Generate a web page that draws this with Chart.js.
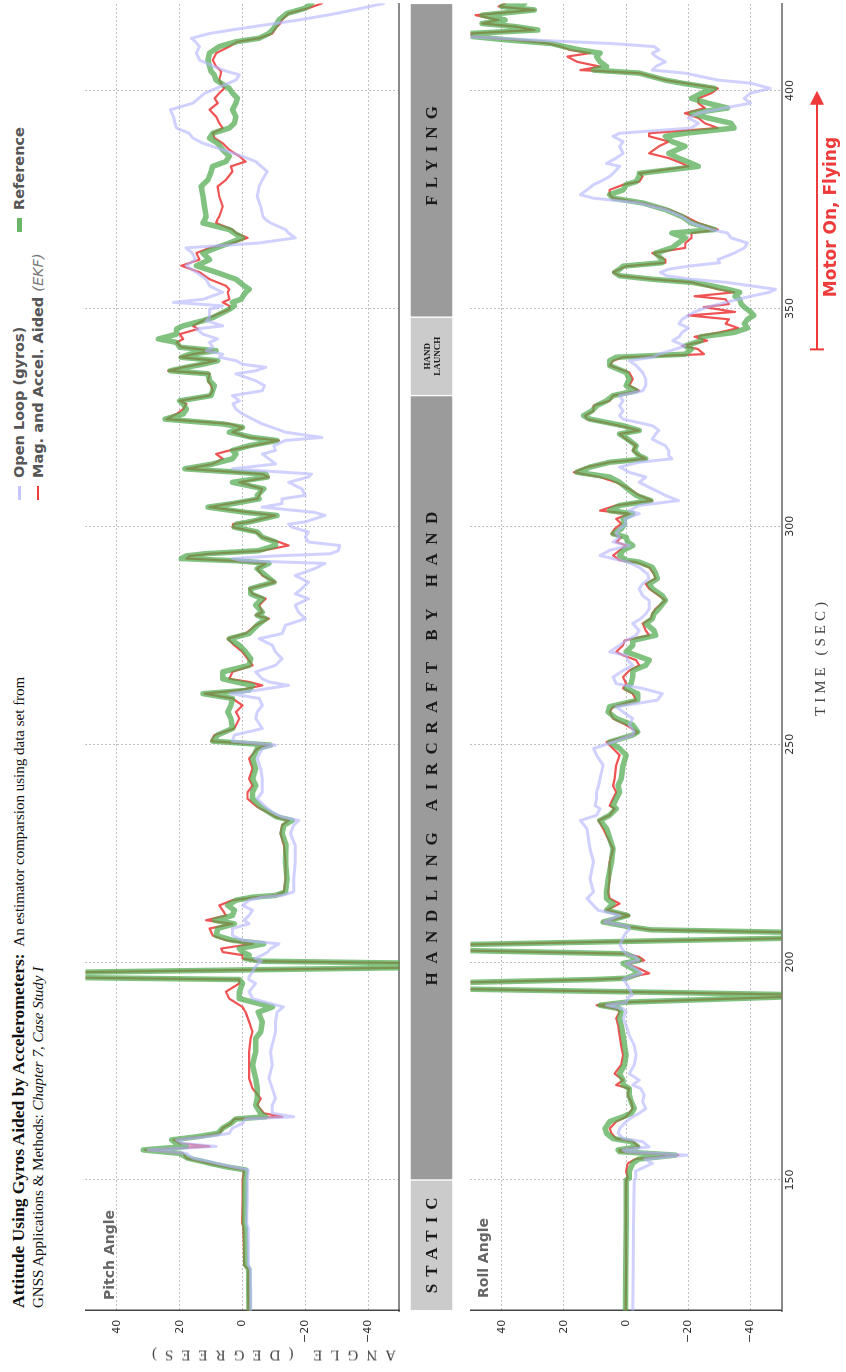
<!DOCTYPE html>
<html>
<head>
<meta charset="utf-8">
<script src="https://cdn.jsdelivr.net/npm/chart.js@4.4.1/dist/chart.umd.min.js"></script>
<style>
  html, body { margin: 0; padding: 0; background: #fff; width: 846px; height: 1372px; overflow: hidden; }
  /* the figure is laid out landscape and turned a quarter turn */
  #sheet { position: absolute; left: 0; top: 0; width: 1372px; height: 846px; background: #fff;
           transform-origin: 0 0; transform: translate(0px, 1372px) rotate(-90deg); }
  #sheet canvas { position: absolute; left: 0; }
  .txt { position: absolute; white-space: nowrap; }
  #title { left: 64px; top: 9px; font-family: "Liberation Serif", serif; font-size: 15px; line-height: 19px; color: #111; }
  #title b { font-size: 17.5px; }
  .leg { font-family: "DejaVu Sans", sans-serif; font-weight: bold; font-size: 14.5px; color: #555; }
  .leg i { font-weight: normal; color: #777; }
  .sw { display: inline-block; width: 14px; vertical-align: middle; margin-right: 8px; position: relative; top: -1px; }
  .panel { font-family: "DejaVu Sans", sans-serif; font-weight: bold; font-size: 14px; color: #666; }
  .axis { font-family: "Liberation Serif", serif; color: #444; }
</style>
</head>
<body>
<div id="sheet">
  <div id="title" class="txt"><b>Attitude Using Gyros Aided by Accelerometers:</b>&nbsp; An estimator comparsion using data set from<br>GNSS Applications &amp; Methods: <i>Chapter 7, Case Study I</i></div>

  <div class="txt leg" style="left:872px; top:11px;"><span class="sw" style="height:3px; background:rgba(185,185,255,0.8);"></span>Open Loop (gyros)</div>
  <div class="txt leg" style="left:1140px; top:11px;"><span class="sw" style="height:5px; background:rgba(80,170,80,0.85);"></span>Reference</div>
  <div class="txt leg" style="left:872px; top:30px;"><span class="sw" style="height:2px; background:rgba(235,40,40,0.9);"></span>Mag. and Accel. Aided <i>(EKF)</i></div>

  <canvas id="pitch" width="1372" height="345" style="top:70px;"></canvas>
  <canvas id="band" width="1372" height="53" style="top:405px;"></canvas>
  <canvas id="roll" width="1372" height="391" style="top:455px;"></canvas>

  <div class="txt panel" style="left:72px; top:101px;">Pitch Angle</div>
  <div class="txt panel" style="left:74px; top:475px;">Roll Angle</div>

  <div class="txt axis" style="left:17px; top:270px; font-size:15px; letter-spacing:8px; transform: translate(-50%, -50%) rotate(-90deg);">ANGLE (DEGREES)</div>
  <div class="txt axis" style="left:715px; top:820px; font-size:15px; letter-spacing:4px; transform: translate(-50%, -50%);">TIME (SEC)</div>
</div>

<script>
// ---- axes ----
const timeTicks  = [150, 200, 250, 300, 350, 400];
const angleTicks = [-40, -20, 0, 20, 40];
const timeMin = 120, timeMax = 420;
const angleMin = -50, angleMax = 50;

// ---- flight phases ----
const phaseNames = ['STATIC', 'HANDLING AIRCRAFT BY HAND', 'HAND\nLAUNCH', 'FLYING'];
const phaseStart = [120, 150, 330, 348];
const phaseEnd   = [150, 330, 348, 420];
const phaseLabelTime = [135, 249, 339, 385];

// ---- motor-on marker ----
const motorLabel = 'Motor On, Flying';
const motorStart = 340.6;
const motorEnd   = 399.5;

// ---- pitch angle (deg) ----
const pitchTime = [
  120,125,129.5,130.5,135,139,140,145,150,152.3,
  153,153.6,154.3,155,156.1,156.9,157.7,158.4,159.2,160,
  160.7,161.9,163,164,164.5,165.3,167.2,168.7,171,173.3,
  176.4,179.4,182.5,184,186.3,188.5,189.7,191.6,193.2,195.1,
  196,196.5,197.6,198.8,199.7,200.2,200.8,201.6,202.3,203.1,
  204.2,205,206.1,207.7,208.8,209.6,210.7,211.9,213,214.2,
  214.9,215.3,216.1,219.1,223,226.8,229.5,231.4,232.5,233.3,
  234.4,235.6,237.5,239,240.5,242.1,244.4,246.7,249,249.8,
  250.7,252.1,253.6,255.9,257.4,258.9,260.5,261.6,262.4,263.5,
  264.3,265,266.6,268.1,269.6,271.2,272.7,274.2,275.4,277.3,
  278.8,279.6,280.3,281.9,283.4,284.5,285.7,287.2,288.7,290.3,
  291.5,292.1,292.6,293.2,293.7,294.4,295.6,296.4,297.5,298.7,
  299.8,300.5,301,302.5,303.2,304.4,305.2,306.3,307.1,308.6,
  310.1,311.3,312,313.2,314.3,315.5,316.6,317.4,318.5,319.7,
  320.4,321.6,322.7,323.5,324.6,325.8,326.9,328.1,328.8,330,
  331.1,332.3,333.4,335,335.7,336.5,337.2,338,338.8,339.5,
  340.3,341.1,342.2,343,344.1,345.3,346,347.2,347.9,349.8,
  350.6,351.4,352.1,353.7,354.4,355.2,356.7,358.3,359.8,361.2,
  362.7,363.9,365,366.2,367.3,368.1,369.6,370.4,371.1,373.4,
  375.7,378,379.5,381.4,382.6,383.7,384.9,386.4,387.9,389.1,
  390.2,391.4,392.5,394,395.6,397.1,398.2,399.4,400.5,402.4,
  403.6,404.4,405.5,407,408.6,410.1,411.2,412,413.1,414.3,
  415.4,416.2,417.7,418.9,420
];
const pitchEkf = [
  -1.9,-1.8,-1.9,-0.5,-0.4,-0.3,0.1,0.0,0.0,-0.5,
  5.3,9.5,13.7,17.9,18.9,31,10.5,20,22,12.6,
  7.4,6.3,3.7,2.6,-12.6,-6.8,-4.7,-5.8,-3.2,-2.1,
  -2.1,-2.1,-2.6,-3.2,-2.1,-1,0,4.2,5.3,1,
  1,60,60,-60,-60,-6,0,0,6.3,6.8,
  -3.2,5.3,9.5,10.5,3.2,11.6,5.3,6.3,7.4,3.2,
  -4.2,-10.5,-13.2,-13.7,-13.7,-13.2,-12.1,-12.6,-14.7,-10.5,
  -7.9,-4.7,-1.6,-1.6,-3.2,-2.1,-3.2,-2.1,-4.7,-8.4,
  10,8.9,2.6,1,2.1,0,3.2,12.1,1,-6.3,
  -2.1,4.2,3.2,-3.2,-1.6,0,2.6,4.7,-1,-4.2,
  -8.4,-4.2,-6.3,-5.3,-7.4,-3.2,-2.1,-10.5,-6.3,-4.7,
  -7.4,3.7,17.9,16.8,10.5,-6.3,-14.7,-11.6,-6.3,-4.2,
  3.2,3,-2.1,-10.5,-2.1,10.5,4.2,-4.7,-5.3,-6.3,
  1,-8.4,-6.3,17.9,9.5,6.3,8.4,4.2,-3.2,-11.6,
  -2.1,3.2,0,4.2,24.2,21,18.9,17.9,20,10.5,
  9.5,10,11,10.5,23.7,18.9,13.7,8.4,20,15.8,
  9.5,19.5,21,18.9,20,14.2,15.8,12.6,10.5,4.2,
  4.2,6.3,4.2,4.7,4.2,5.3,10.5,13.7,19.5,13.7,
  14.7,10.5,3.2,-1.6,2.1,3.2,8.4,8,7.4,6.3,
  7.4,7.9,5.3,3.2,3.7,-1,1,4.2,6.3,8.9,
  9.5,6.3,7.4,8.4,10.5,7.9,8.9,7.4,5.8,7.4,
  7,6.8,8.4,9.5,8.4,4.2,1.6,-5.3,-9.5,-10.5,
  -12,-12.6,-14.7,-21,-25.3
];
const pitchReference = [
  -2.1,-2.0,-2.0,-1.0,-1.0,-0.9,-0.6,-0.7,-0.8,-1.0,
  5,9,13,17.4,20,31.6,17.9,21,22.6,13.7,
  7.9,6.3,3.7,2.1,-7.4,-5.8,-4.2,-4.7,-4.7,-4.2,
  -3.2,-4.2,-4.2,-5.8,-6.3,-5,-9.5,1,1,0,
  1,60,60,-60,-60,-6,-1,-2.1,0,1,
  -6.8,3.2,8.4,7.9,2.6,8.9,3.2,2.6,4.7,2.1,
  -3.2,-10.5,-13.7,-14.2,-13.7,-13.9,-12.6,-13.2,-15.8,-11,
  -8.4,-5.8,-3.2,-3.2,-4.2,-3.2,-4.2,-3.2,-4.7,-8.9,
  9.5,7.9,3.2,3.7,4.7,3.7,3.2,12.6,-2,-3.2,
  2.1,6.3,6.3,-2.1,-2.6,-1,1,4.2,-2.1,-4.7,
  -7.4,-4.7,-6.3,-4.2,-6.3,-2.6,-2.6,-10,-7.4,-4.7,
  -8.4,2,19.5,18,12,-5,-10.5,-10.5,-6.3,-4.7,
  2.6,2,-2.1,-11,-1,11,3.2,-5.3,-4.7,-6.8,
  3.2,-7.9,-7.4,18.4,9.5,3.2,2.1,3.2,-2.1,-11,
  -3.2,4.2,0,6.3,24.7,18.9,17.9,18.9,20,10,
  9.5,9,10.5,11,23,17.9,12.6,7.9,19.5,16.8,
  8.4,20,21,26.8,21,21,18.9,12.6,9.5,4.2,
  2.6,3.2,0.5,-1,-2.1,-0.5,2.1,8.4,14.7,10.5,
  12.6,8.4,4.2,0,2.6,4.2,12.6,12,11.6,12.1,
  12.6,13.2,11,10,9.5,5.3,4.2,6.3,7.9,10.5,
  9.5,4.2,2.6,2.1,3.2,2.1,1.6,3.2,4.2,8.4,
  9,10,10.5,11,10.5,7.4,2.1,-5.3,-8.4,-10,
  -11,-11.6,-14.2,-20,-22
];
const pitchGyro = [
  -2.6,-2.6,-2.5,-1.9,-1.8,-1.8,-1.3,-1.5,-1.5,-1.8,
  3,7,11,15.8,17.9,30,8.4,19,21,10.5,
  4.2,3.2,0,-1,-16.3,-9.5,-9.5,-10.5,-9.5,-8.4,
  -9.5,-8.9,-10,-10.5,-10.5,-11,-13,-3.2,-2.1,-4.2,
  -2,-2,-3,-4,-5,-6,-4,-6.3,-8,-9,
  -11.6,0,3.2,3.2,-2.1,-0.5,-2.1,-3.2,0,-2.1,
  -6.3,-12.6,-16.3,-16.3,-16.8,-16.8,-15.3,-16.3,-17.9,-12.6,
  -9.5,-7.4,-4.7,-6.3,-6.3,-6.3,-5.8,-4.7,-6.3,-10.5,
  3.2,2.6,-6.3,-4.2,-4.7,-6.3,-5.3,3.7,-4.7,-14.7,
  -8.4,-6.3,-4.2,-10.5,-12.6,-10.5,-9.5,-5.3,-12.6,-13.7,
  -20,-18.9,-17.9,-16.8,-21,-16.8,-18.9,-21,-16.8,-23,
  -26.3,0,3.2,-10,-28,-30.5,-31,-21,-20,-21,
  -15.8,-14.7,-20,-26.3,-23,-6.3,-12.6,-12.6,-20,-18.9,
  -14.7,-21,-22,3.2,-10.5,-8.4,-6.3,-10.5,-10,-13.7,
  -25.3,-13.7,-9.5,-6.3,-3.2,0,2.1,3,1,3.2,
  -6.3,-7,-4.2,2.1,-4.2,-7.4,0,2,7.4,6.3,
  11.6,9.5,10.5,8,12.6,14.7,6.3,11.6,10.5,10.5,
  6.3,22,12.6,6.3,8.4,10.5,11.6,14.7,18,15,
  16,18,-5,-16.8,-14.7,-13.7,-9,-7.4,-6.5,-5.8,
  -4.7,-5.3,-6.3,-7.9,-6,-4.2,0,6.3,12.6,15.8,
  17,21,21.5,22,23,15.8,14,12,8.4,2.1,
  1,5,9,13.7,14.7,13.7,15,16.3,10.5,0,
  -10.5,-18,-30,-38,-45
];

// ---- roll angle (deg) ----
const rollTime = [
  120,130,140,150,150.4,152,153.8,154.8,155.7,156.5,
  156.9,157.6,158.8,159.5,160.7,161.8,163.4,164.5,165.3,166.4,
  168,169.5,171,171.8,172.9,174.4,176.4,178.6,180.9,183.2,
  185.5,187.1,188.6,189.3,190.1,190.8,192.1,192.45,193.9,195.2,
  196,196.3,197,197.4,198.5,199.7,200.4,201.2,201.9,202.7,
  203.9,205.6,206.8,207.4,208.1,209.2,210.7,211.9,213.4,214.6,
  216.1,219.1,223,226,230.6,232.5,233.7,235.2,235.9,237.5,
  239,240.5,242.1,245.2,247.5,249,250.5,252.1,252.8,254.4,
  255.9,257.4,258.6,260.1,261.6,262.8,263.9,265.4,266.9,268.1,
  269.3,270.4,271.2,272.7,273.8,275,276.1,277.7,278.8,279.9,
  281.1,283,284.1,285.7,286.8,288,289.1,290.6,291.8,292.2,
  293.3,294.5,295.6,296.4,297.5,298.3,299.4,300.6,301.7,302.9,
  303.6,304.8,305.9,307.1,308.6,310.1,311.3,312.4,313.6,314.7,
  315.5,316.2,317.4,318.5,320,321.2,322,323.1,324.6,325.4,
  326.5,327.7,328.8,330,331.1,332.3,333.8,335.3,336.9,338,
  338.8,339.5,340.7,341.4,342.6,343.5,344.5,345.5,346.5,347.5,
  348.4,349.2,350.3,351,352.1,352.8,353.7,354.4,355.2,356,
  356.7,357.5,358.3,359,359.7,360.5,361.2,362.7,363.9,365,
  366.2,367.3,368.1,369.6,371.1,372.7,374.2,375.3,376.1,377.2,
  378.4,379.1,380.3,381,382.6,383.3,384.5,385.6,387.2,388.3,
  389.5,390.2,391.4,392.5,393.7,394.8,396,397.1,398.2,399.4,
  400.5,401.7,402.4,404,404.7,405.5,406.6,407.8,408.6,409.3,
  410.1,410.8,411.6,412.4,413.1,413.9,414.7,415.4,416.2,417.3,
  418.5,419.3,420
];
const rollEkf = [
  0.2,0,0.1,0,-0.5,0,-0.5,-3,-16.8,2.1,
  2.1,-4.2,-2.1,3.2,4.7,5.3,3.2,0,-1,-2.1,
  -1.6,-0.5,-1,3.2,1,3.7,1.6,1,1.6,2.1,
  2.6,3.2,2.1,3.2,9.5,0,-55,-60,60,60,
  10,0,-4.2,-7.4,-4.2,0,-5.8,-4.2,0,55,
  60,-60,-55,-8,-1,7.4,-1,6.3,2.1,5.3,
  5.8,5.3,5.3,4.2,7.4,8.9,5.3,3.7,5.3,4.2,
  3.2,4.2,3.7,3.2,2.1,4.2,6.3,-2.1,-3.7,0,
  4.2,5.3,4.2,-3.2,-2.1,1,0,1,-1,-4.2,
  -3.2,1,3.2,1,0.5,-7.4,-6.3,-5.3,-7.9,-8.4,
  -9.5,-12.6,-10.5,-7.4,-6.3,-9.5,-8.9,-7.4,-3.2,2.1,
  4.2,2.1,0,3.2,1.6,4.7,3.7,1.6,3.2,-1,
  8.4,3.2,-8.4,-4.2,-1,3.2,8.4,16.8,12.6,5.3,
  -6.3,-4.2,-2.1,-3.2,0,2.1,-4.2,2.1,12.6,13.2,
  10.5,10.5,5.3,4.2,-4.2,-1,-2.1,-1,5.3,4.2,
  1,-25,-23,-18,-26,-22,-30,-36,-32,-33,
  -20,-35,-25,-33,-32,-22,-34.7,-29.5,-25.3,-21,
  -8.4,2.1,4.2,2.1,0,-12.6,-12.6,-8.4,-19,-19,
  -21,-21,-29.5,-23.2,-19,-13.7,-5.3,4.2,5.3,5.3,
  1,-4.2,-5.3,-4.2,-20,-17.9,-13.7,-7.4,-10.5,-13.7,
  -7.4,-7.4,-29.5,-25.3,-23.2,-18.9,-25.3,-23.2,-23.2,-27.4,
  -29.5,-18.9,-12.6,-4.2,14.7,8.4,15.8,18.9,11.6,17.9,
  21,25,35.8,49.5,50,29.5,35.8,46.3,41,48.4,
  29.5,41,38.9
];
const rollReference = [
  0.2,0.1,0,0,-1,-1,-2.1,-4,-15.8,2.1,
  2.6,-3.7,-1.6,4.2,6.3,6.8,5.3,1,-1.6,-2.6,
  -1.6,-1,-1,1,1,2.1,0.5,0,0.5,1,
  1.6,2.1,1.6,2.1,8.4,0,-55,-60,60,60,
  10,0,-2.6,-4.2,-2.1,1,-4.2,-2.1,0,55,
  60,-60,-55,-8,-1,7.4,-0.5,6.3,4.2,6.3,
  6.3,5.8,4.7,4.2,6.3,8.4,5.3,3.2,4.2,3.2,
  2.1,2.6,1.6,1,0,2.1,5.3,-2.1,-3.7,-2.1,
  3.2,5.8,5.3,-3.7,-3.7,0,-1.6,-2.1,-2.1,-6.3,
  -7.4,-3.2,0,-2.1,-2.1,-9.5,-8.9,-6.3,-8.4,-8.9,
  -10.5,-12.6,-11.6,-8.4,-7.4,-10,-9.5,-8.4,-4.2,0,
  2.1,1,-2.1,-0.5,0,4.2,1.6,0.5,1,-2.1,
  5.3,2.1,-7.9,-3.2,-0.5,2.1,5.3,15.8,11.6,5.3,
  -6.3,-4.2,-2.6,-3.2,-0.5,2.1,-4.2,1,11.6,13.7,
  11,9.5,6.3,4.2,-3.2,0,-1,0,5.3,5.3,
  3.2,-19,-21,-19,-24,-24,-34.7,-39,-38,-39,
  -41,-40,-38,-37,-36.5,-35,-36.5,-32.6,-27.4,-21,
  -8.4,2.1,3.7,2.1,1,-11.6,-11.6,-9.5,-14.7,-16.8,
  -19,-14.7,-28.4,-21,-17.9,-12.6,-5.3,4.2,5.3,1,
  0,-3.2,-4.2,-4.2,-23.2,-21,-16.8,-13.7,-18.9,-14.7,
  -12.6,-19,-34.7,-33.7,-26.3,-21,-32.6,-26.3,-21,-24.2,
  -28.4,-17.9,-12.6,-4.2,10.5,6.3,8.4,9.5,8.4,14.7,
  20,24,37.9,49.5,50,28.4,35.8,46.3,38.9,46.3,
  29.5,40,32.6
];
const rollGyro = [
  -2.1,-2.3,-2.4,-2.6,-3.2,-3,-8.4,-6,-19.5,0,
  1,-7.4,-5.3,1,2.6,2.1,0,-2.1,-4.2,-6.3,
  -5.3,-5.8,-4.7,-2.1,-4.2,-1,-2.6,-3.2,-2.6,-1,
  0,1,0,1,6.3,0,-1,-2,-1,0,
  1,0,-3,-5,-3,0,-4,-3,0,1,
  2,1,0,-1,-1,7,2,9,11,12.6,
  10.5,11.6,10.5,11.6,12.6,14.7,9.5,8.4,10,9.5,
  9.5,8.9,8.4,7.4,9.5,10.5,4.2,-2.1,-2.6,-1,
  -2.1,1,3.2,-10,-11.6,-5.3,3.2,4.2,1,-2.1,
  -0.5,0,5.3,2.1,0,-3.2,-4.2,-2.1,-4.7,-6.3,
  -7.4,-7.4,-5.3,-4.2,-5.3,-7.4,-6.8,-4.2,-0.5,2,
  8.4,5.3,-1,4.2,2.1,3.2,2.1,0,0.5,-4.2,
  -1,-4.2,-16.8,-12.6,-8.4,-4.2,-6.3,-1,2.1,-4.2,
  -14.7,-13.7,-13.7,-12.6,-8.4,-9.5,-10.5,-8.4,1,2.1,
  1,2.1,1,2.1,-5.3,-6.3,-6.3,-5.3,-3.2,-1,
  -8.4,-10.5,-16,-18.9,-15,-17,-18,-20,-17,-18,
  -20,-22,-26,-30,-36,-40,-46,-48,-40,-32,
  -21,-13,-11,-13.7,-20,-30,-29.5,-34.7,-38,-39,
  -33.7,-32.6,-27.4,-21,-17.9,-12.6,-4.2,10.5,14.7,12.6,
  10.5,8.4,5.3,4.2,2.1,6.3,3.2,1,2.1,1,
  4.2,2.1,-21,-23.2,-20,-23.2,-31.6,-40,-37.9,-40,
  -46.3,-40,-29.5,-18.9,-8.4,-9.5,-12.6,-9.5,-8.4,-10.5,
  -9,5,30,52,58,60,60,60,60,60,
  60,60,60
];

// ---- styling ----
const COLORS = {
  gyro: 'rgba(180,180,255,0.62)',
  ref:  'rgba(80,170,80,0.72)',
  ekf:  'rgba(235,35,35,0.78)',
  grid: 'rgba(120,120,120,0.9)',
  tick: '#333',
  motor: '#ee3a3a'
};
const phaseColors = ['#cbcbcb', '#9b9b9b', '#cbcbcb', '#9b9b9b'];
const phaseFont = ['bold 17px "Liberation Serif"', 'bold 17px "Liberation Serif"', 'bold 9px "Liberation Serif"', 'bold 17px "Liberation Serif"'];
const phaseSpacing = [7, 8.5, 0, 7];
const PLOT_LEFT = 61.3, PLOT_RIGHT_PAD = 3.4;

const xy = (t, v) => t.map((x, i) => ({ x: x, y: v[i] }));
const minus = v => String(v).replace('-', '\u2212');

function series(label, t, v, color, width) {
  return { label, data: xy(t, v), borderColor: color, borderWidth: width,
           pointRadius: 0, tension: 0, fill: false, borderJoinStyle: 'round', borderCapStyle: 'round' };
}

function panelOptions(showTimeLabels, xHeight, padTop) {
  return {
    responsive: false, animation: false, devicePixelRatio: 1,
    layout: { padding: { top: padTop, right: PLOT_RIGHT_PAD, left: 0, bottom: 0 } },
    plugins: { legend: { display: false }, tooltip: { enabled: false } },
    scales: {
      x: {
        type: 'linear', min: timeMin, max: timeMax,
        afterBuildTicks: s => { s.ticks = timeTicks.map(v => ({ value: v })); },
        afterFit: s => { s.height = xHeight; },
        ticks: { display: showTimeLabels, color: COLORS.tick, padding: 2, maxRotation: 0,
                 font: { family: 'DejaVu Sans', size: 11 } },
        grid: { color: COLORS.grid, lineWidth: 1, drawTicks: false },
        border: { display: true, color: '#8a8a8a', width: 2, dash: [1, 3] }
      },
      y: {
        type: 'linear', min: angleMin, max: angleMax,
        afterBuildTicks: s => { s.ticks = angleTicks.map(v => ({ value: v })); },
        afterFit: s => { s.width = PLOT_LEFT; },
        ticks: { color: COLORS.tick, padding: 9, callback: v => minus(v),
                 font: { family: 'DejaVu Sans', size: 11 } },
        grid: { color: COLORS.grid, lineWidth: 1, drawTicks: false },
        border: { display: true, color: '#444', width: 1.5, dash: [1, 3] }
      }
    }
  };
}

function panelData(t, gyro, ref, ekf) {
  return { datasets: [
    series('Open Loop (gyros)', t, gyro, COLORS.gyro, 3),
    series('Reference', t, ref, COLORS.ref, 5.5),
    series('Mag. and Accel. Aided (EKF)', t, ekf, COLORS.ekf, 2.2)
  ] };
}

// arrow marking the powered-flight interval, drawn along the roll time axis
const motorArrow = {
  id: 'motorArrow',
  afterDraw(chart) {
    const { ctx, scales: { x } } = chart;
    const xs = x.getPixelForValue(motorStart), xe = x.getPixelForValue(motorEnd);
    const y = 362;
    ctx.save();
    ctx.strokeStyle = COLORS.motor; ctx.fillStyle = COLORS.motor; ctx.lineWidth = 2;
    ctx.beginPath(); ctx.moveTo(xs, y); ctx.lineTo(xe - 8, y); ctx.stroke();
    ctx.beginPath(); ctx.moveTo(xs, y - 7); ctx.lineTo(xs, y + 7); ctx.stroke();
    ctx.beginPath(); ctx.moveTo(xe + 2, y); ctx.lineTo(xe - 12, y - 7); ctx.lineTo(xe - 12, y + 7); ctx.closePath(); ctx.fill();
    ctx.font = 'bold 17px "DejaVu Sans"'; ctx.textAlign = 'center'; ctx.textBaseline = 'middle';
    ctx.fillText(motorLabel, (xs + xe) / 2 + 4, 377);
    ctx.restore();
  }
};

// names written inside the phase bars
const phaseText = {
  id: 'phaseText',
  afterDatasetsDraw(chart) {
    const { ctx, scales: { x } } = chart;
    const meta = chart.getDatasetMeta(0);
    ctx.save();
    ctx.fillStyle = '#1a1a1a'; ctx.textAlign = 'center'; ctx.textBaseline = 'middle';
    meta.data.forEach((el, i) => {
      const cx = x.getPixelForValue(phaseLabelTime[i]);
      const lines = phaseNames[i].split('\n');
      ctx.font = phaseFont[i];
      ctx.letterSpacing = phaseSpacing[i] + 'px';
      const lh = 10;
      lines.forEach((ln, k) => {
        ctx.fillText(ln, cx + phaseSpacing[i] / 2, el.y + (k - (lines.length - 1) / 2) * lh + 1);
      });
    });
    ctx.restore();
  }
};

new Chart(document.getElementById('pitch'), {
  type: 'line',
  data: panelData(pitchTime, pitchGyro, pitchReference, pitchEkf),
  options: panelOptions(false, 15, 13.4)
});

new Chart(document.getElementById('band'), {
  type: 'bar',
  data: { datasets: [{
    data: phaseStart.map((s, i) => ({ x: [s, phaseEnd[i]], y: 'phase' })),
    backgroundColor: phaseColors, borderColor: '#ffffff', borderWidth: 1, borderSkipped: false,
    barPercentage: 1, categoryPercentage: 1
  }] },
  options: {
    indexAxis: 'y', responsive: false, animation: false, devicePixelRatio: 1,
    layout: { padding: { top: 5, bottom: 5, left: PLOT_LEFT, right: PLOT_RIGHT_PAD } },
    plugins: { legend: { display: false }, tooltip: { enabled: false } },
    scales: {
      x: { type: 'linear', min: timeMin, max: timeMax, display: false },
      y: { type: 'category', labels: ['phase'], display: false }
    }
  },
  plugins: [phaseText]
});

new Chart(document.getElementById('roll'), {
  type: 'line',
  data: panelData(rollTime, rollGyro, rollReference, rollEkf),
  options: panelOptions(true, 64.3, 10),
  plugins: [motorArrow]
});
</script>
</body>
</html>
